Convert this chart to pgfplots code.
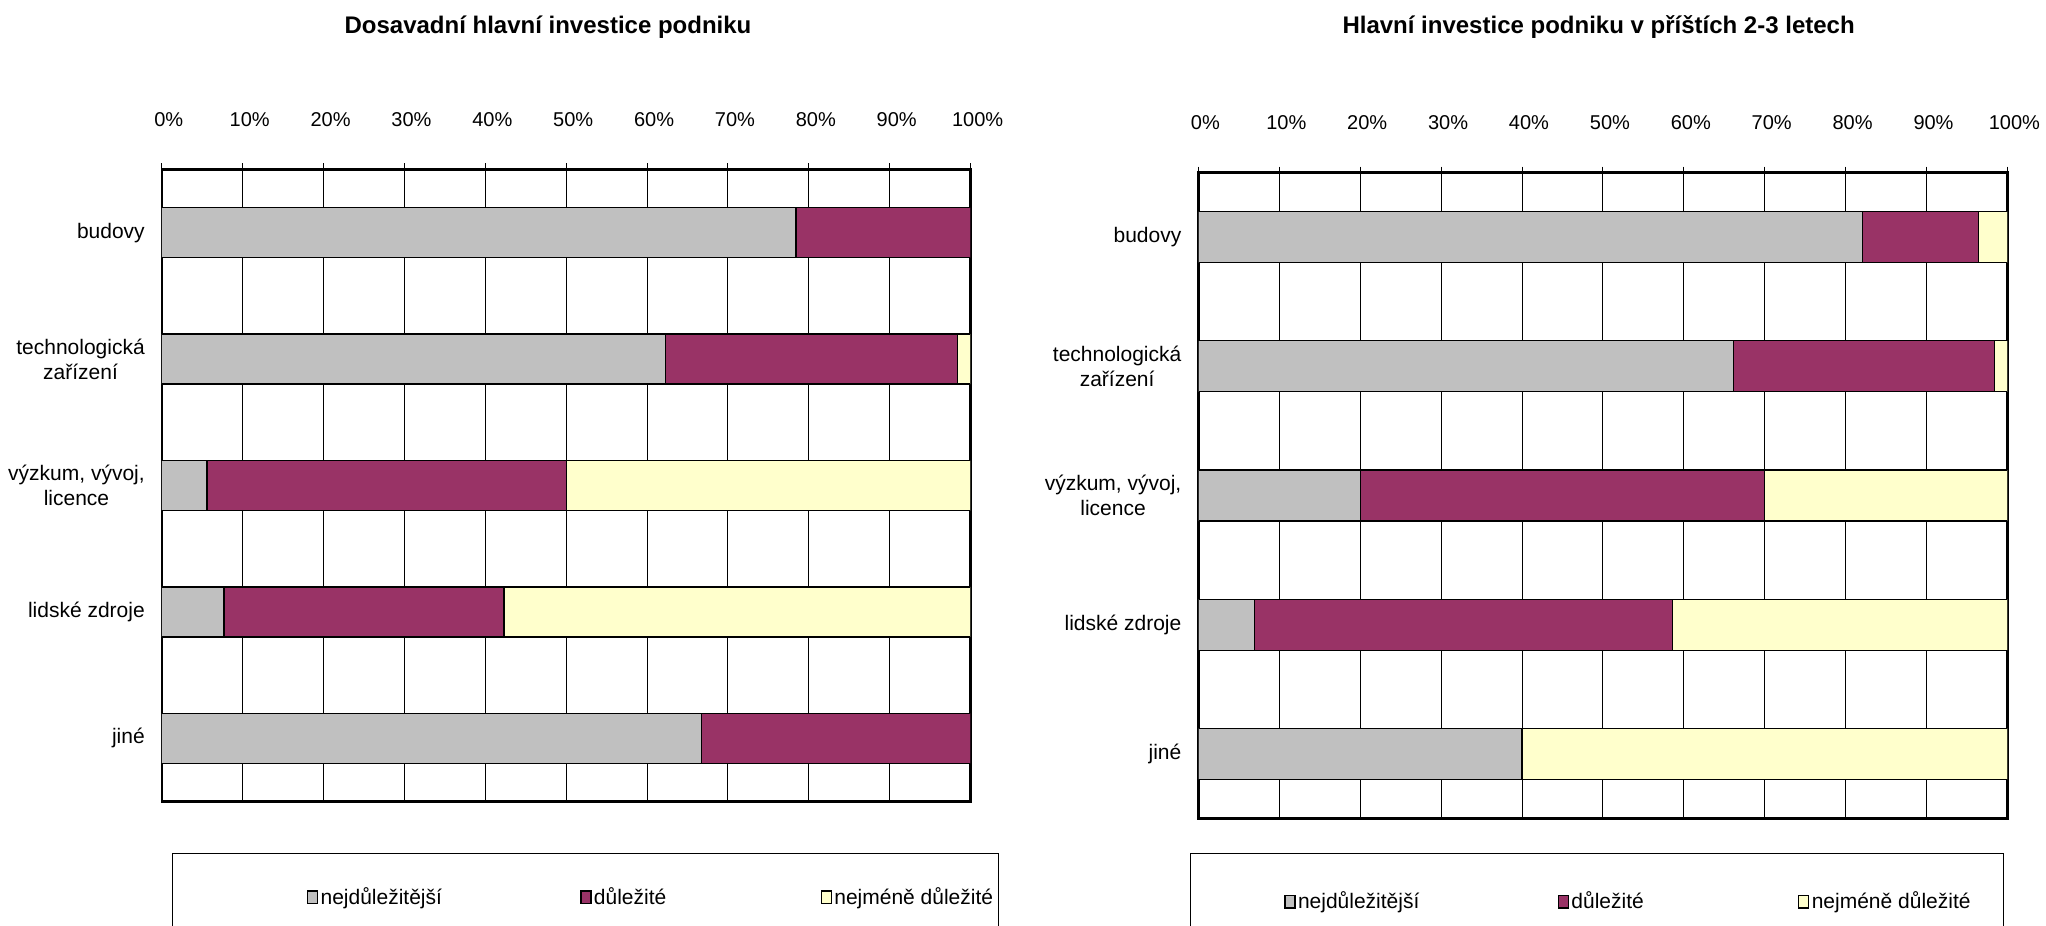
\documentclass[border=0pt]{standalone}
\usepackage{fontspec}
\setmainfont{Liberation Sans}
\usepackage{pgfplots}
\usepackage{pgfplotstable}
\pgfplotsset{compat=1.18}

\definecolor{nejd}{HTML}{C0C0C0}
\definecolor{dul}{HTML}{993366}
\definecolor{nejm}{HTML}{FFFFCC}

% shares of answers in %, columns: nejdulezitejsi, dulezite, nejmene dulezite
\pgfplotstableread{
y a b c
0 78.4 21.6 0
1 62.3 36.1 1.6
2 5.6 44.4 50.0
3 7.7 34.6 57.7
4 66.7 33.3 0
}\dosud
\pgfplotstableread{
y a b c
0 82.1 14.3 3.6
1 66.1 32.3 1.6
2 20.0 50.0 30.0
3 6.9 51.7 41.4
4 40.0 0 60.0
}\pristi

\pgfplotsset{
  invbar/.style={
    xbar stacked, scale only axis,
    xmin=0, xmax=100, ymin=-0.5, ymax=4.5, y dir=reverse,
    xtick={0,10,...,100},
    xticklabels={0\%,10\%,20\%,30\%,40\%,50\%,60\%,70\%,80\%,90\%,100\%},
    xtick pos=right, xticklabel pos=right,
    tick align=outside, major tick length=3pt,
    xtick style={black, line width=0.5pt},
    xticklabel style={font=\fontsize{10}{12}\selectfont, yshift=15pt, xshift=3.5pt},
    ytick={0,...,4},
    yticklabels={budovy,{technologická\\zařízení},{výzkum, vývoj,\\licence},lidské zdroje,jiné},
    ytick style={draw=none},
    yticklabel style={align=center, font=\fontsize{10.5}{12.5}\selectfont, xshift=-2pt},
    xmajorgrids, grid style={black, line width=0.5pt},
    axis line style={line width=1.2pt},
    every axis plot/.append style={draw=black, line width=0.6pt},
    title style={font=\fontsize{12}{14}\selectfont\bfseries},
    legend columns=3,
    legend style={draw=none, fill=none, inner sep=0pt, anchor=west,
      font=\fontsize{10.5}{12.5}\selectfont, nodes={inner sep=1.2pt},
      /tikz/column 2/.style={column sep=68pt},
      /tikz/column 4/.style={column sep=76pt},
      cells={anchor=west}},
    legend image code/.code={\draw[#1] (0pt,-3.2pt) rectangle (5pt,3.2pt);},
  }
}

\begin{document}
\begin{tikzpicture}
\begin{axis}[invbar,
  at={(80.9pt,62.2pt)}, anchor=south west,
  width=404.4pt, height=316.1pt, bar width=25pt,
  title={Dosavadní hlavní investice podniku},
  title style={at={(axis description cs:0.4775,1.2057)}, anchor=center, yshift=0pt},
  legend style={at={(axis description cs:0.179,-0.1515)}}]
\addplot[fill=nejd] table[x=a, y=y] {\dosud};
\addplot[fill=dul] table[x=b, y=y] {\dosud};
\addplot[fill=nejm] table[x=c, y=y] {\dosud};
\legend{nejdůležitější,důležité,nejméně důležité}
\end{axis}

\begin{axis}[invbar,
  at={(599.2pt,53.8pt)}, anchor=south west,
  width=404.5pt, height=322.9pt, bar width=25.5pt,
  title={Hlavní investice podniku v příštích 2-3 letech},
  title style={at={(axis description cs:0.4947,1.2062)}, anchor=center, yshift=0pt},
  legend style={at={(axis description cs:0.1058,-0.1288)}}]
\addplot[fill=nejd] table[x=a, y=y] {\pristi};
\addplot[fill=dul] table[x=b, y=y] {\pristi};
\addplot[fill=nejm] table[x=c, y=y] {\pristi};
\legend{nejdůležitější,důležité,nejméně důležité}
\end{axis}

% legend frames, cut by the lower page edge as in the reference
\draw[line width=0.5pt] (86.4pt,36.3pt) rectangle (499pt,-30pt);
\draw[line width=0.5pt] (595.3pt,36.3pt) rectangle (1001.7pt,-30pt);

\pgfresetboundingbox
\path (0pt,0pt) rectangle (1023pt,463pt);
\end{tikzpicture}
\end{document}
